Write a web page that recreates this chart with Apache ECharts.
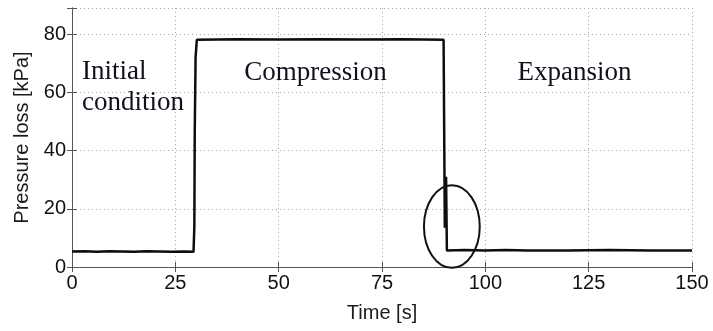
<!DOCTYPE html>
<html>
<head>
<meta charset="utf-8">
<script src="https://cdn.jsdelivr.net/npm/echarts@6/dist/echarts.min.js"></script>
<style>
  html, body { margin: 0; padding: 0; background: #fff; }
  #chart { width: 713px; height: 331px; }
</style>
</head>
<body>
<div id="chart"></div>
<script>
// Measured pressure loss over one compression / expansion cycle
const timeS = [0, 3, 6, 9, 12, 15, 18, 21, 24, 27, 29.4, 29.6, 29.7, 29.9, 30.2, 40, 50, 60, 70, 80, 89.9, 90.2, 90.5, 90.7, 95, 100, 105, 110, 120, 130, 140, 150];
const pressureKPa = [5.3, 5.4, 5.2, 5.4, 5.3, 5.2, 5.4, 5.3, 5.2, 5.3, 5.2, 14, 47, 72, 78.1, 78.3, 78.2, 78.3, 78.2, 78.3, 78.1, 13.5, 31, 5.7, 5.8, 5.7, 5.8, 5.7, 5.7, 5.8, 5.7, 5.7];

const xTicks = [0, 25, 50, 75, 100, 125, 150];
const yTicks = [0, 20, 40, 60, 80];

// Phase annotations (data coordinates: time, pressure)
const phaseText = ['Initial', 'condition', 'Compression', 'Expansion'];
const phaseT = [2.4, 2.4, 41.7, 107.8];
const phaseP = [62.3, 51.6, 62.1, 62.1];

// Ellipse marking the release transient (centre and half-axes in data units)
const ringCentre = [91.9, 13.9];
const ringHalfAxes = [6.75, 14.2];

const points = timeS.map((t, i) => [t, pressureKPa[i]]);
const frameColor = '#555555';
const gridColor = '#a8a8a8';
const sansFont = '"Liberation Sans", Arial, sans-serif';

const chart = echarts.init(document.getElementById('chart'), null, { renderer: 'canvas' });

const frameAxis = (extra) => Object.assign({
  type: 'value',
  axisLine: { show: true, lineStyle: { color: frameColor, width: 1 } },
  axisTick: { show: true, inside: true, length: 5, lineStyle: { color: frameColor } },
  axisLabel: { show: false },
  splitLine: { show: false }
}, extra);

chart.setOption({
  animation: false,
  backgroundColor: '#ffffff',
  grid: { left: 72, right: 21, top: 8, bottom: 64, containLabel: false },
  xAxis: [
    frameAxis({
      position: 'bottom', min: 0, max: 150, interval: 25,
      name: 'Time [s]', nameLocation: 'middle', nameGap: 36,
      nameTextStyle: { fontFamily: sansFont, fontSize: 20, color: '#1a1a1a' },
      axisLabel: {
        show: true, margin: 6, fontFamily: sansFont, fontSize: 20, color: '#111',
        formatter: (v) => (xTicks.includes(v) ? String(v) : '')
      },
      splitLine: { show: true, lineStyle: { color: gridColor, type: [1, 3], width: 1 } }
    }),
    frameAxis({ position: 'top', min: 0, max: 150, interval: 25 })
  ],
  yAxis: [
    frameAxis({
      position: 'left', min: 0, max: 89, interval: 20,
      name: 'Pressure loss [kPa]', nameLocation: 'middle', nameGap: 39,
      nameTextStyle: { fontFamily: sansFont, fontSize: 20, color: '#1a1a1a' },
      axisLabel: {
        show: true, margin: 6, fontFamily: sansFont, fontSize: 20, color: '#111',
        formatter: (v) => (yTicks.includes(v) ? String(v) : '')
      },
      splitLine: { show: true, lineStyle: { color: gridColor, type: [1, 3], width: 1 } }
    }),
    frameAxis({ position: 'right', min: 0, max: 89, interval: 20 })
  ],
  series: [{
    type: 'line',
    data: points,
    xAxisIndex: 0,
    yAxisIndex: 0,
    showSymbol: false,
    symbol: 'none',
    lineStyle: { color: '#0d0d0d', width: 2.5 },
    z: 5
  }]
});

// Place the phase labels and the ellipse through the axis scales
const toPx = (t, p) => chart.convertToPixel({ xAxisIndex: 0, yAxisIndex: 0 }, [t, p]);
const c = toPx(ringCentre[0], ringCentre[1]);
const e = toPx(ringCentre[0] + ringHalfAxes[0], ringCentre[1] + ringHalfAxes[1]);

const elements = phaseText.map((txt, i) => {
  const pos = toPx(phaseT[i], phaseP[i]);
  return {
    type: 'text',
    x: pos[0], y: pos[1],
    z: 10,
    style: {
      text: txt,
      font: '27px "Liberation Serif", "Times New Roman", serif',
      fill: '#10101f',
      textAlign: 'left',
      textVerticalAlign: 'bottom'
    }
  };
});
elements.push({
  type: 'ellipse',
  z: 10,
  shape: { cx: c[0], cy: c[1], rx: Math.abs(e[0] - c[0]), ry: Math.abs(c[1] - e[1]) },
  style: { fill: 'none', stroke: '#111', lineWidth: 2 }
});
chart.setOption({ graphic: { elements } });
</script>
</body>
</html>
